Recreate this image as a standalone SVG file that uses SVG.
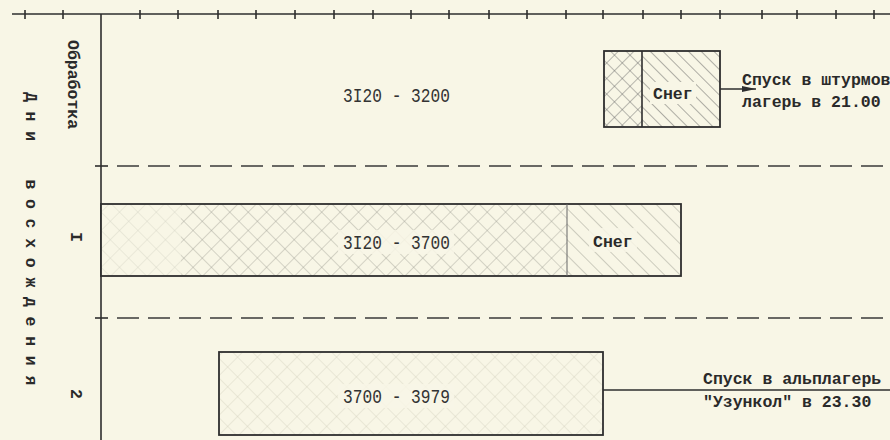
<svg xmlns="http://www.w3.org/2000/svg" width="890" height="440" viewBox="0 0 890 440">
<style>
.ln{stroke:#2e2e2e;stroke-width:1.6;fill:none}
.box{stroke:#2e2e2e;stroke-width:1.8}
.dash{stroke:#3a3a3a;stroke-width:1.4;stroke-dasharray:22 9;fill:none}
.t{font-family:"Liberation Mono","DejaVu Sans Mono",monospace;fill:#2a2a2a;font-size:16.5px;font-weight:bold}
.num{font-family:"Liberation Mono","DejaVu Sans Mono",monospace;fill:#333;font-size:21px}
</style>
<defs>
<pattern id="crossDark" patternUnits="userSpaceOnUse" width="11" height="11" patternTransform="rotate(45)">
<rect width="11" height="11" fill="#f8f6e6"/>
<path d="M0,0 V11 M0,0 H11" stroke="#666" stroke-width="0.9"/>
</pattern>
<pattern id="backDark" patternUnits="userSpaceOnUse" width="9" height="9" patternTransform="rotate(-45)">
<rect width="9" height="9" fill="#f8f6e6"/>
<path d="M0,0 V9" stroke="#555" stroke-width="0.9"/>
</pattern>
<pattern id="crossLight" patternUnits="userSpaceOnUse" width="13" height="13" patternTransform="rotate(45)">
<rect width="13" height="13" fill="#f8f6e6"/>
<path d="M0,0 V13 M0,0 H13" stroke="#9a9a90" stroke-width="0.8"/>
</pattern>
<pattern id="backLight" patternUnits="userSpaceOnUse" width="11" height="11" patternTransform="rotate(-45)">
<rect width="11" height="11" fill="#f8f6e6"/>
<path d="M0,0 V11" stroke="#8a8a80" stroke-width="0.8"/>
</pattern>
<pattern id="crossFaint" patternUnits="userSpaceOnUse" width="14" height="14" patternTransform="rotate(45)">
<rect width="14" height="14" fill="#f8f6e6"/>
<path d="M0,0 V14 M0,0 H14" stroke="#cfccb8" stroke-width="0.7"/>
</pattern>
<marker id="arr" markerWidth="14" markerHeight="6" refX="14" refY="3" orient="auto" markerUnits="userSpaceOnUse">
<path d="M0,0 L14,3 L0,6 Z" fill="#2e2e2e"/>
</marker>
</defs>
<rect width="890" height="440" fill="#f8f6e6"/>

<g id="axis">
<line class="ln" x1="12" y1="14" x2="890" y2="14"/>
<path class="ln" stroke-width="1.3" d="M25,10V19 M63,10V19 M140,10V19 M178,10V19 M218,10V19 M256,10V19 M295,10V19 M334,10V19 M373,10V19 M411,10V19 M449,10V19 M489,10V19 M527,10V19 M566,10V19 M603,10V19 M643,10V19 M681,10V19 M720,10V19 M762,10V19 M797,10V19 M836,10V19 M874,10V19"/>
<line class="ln" x1="101" y1="14" x2="101" y2="440"/>
</g>

<g id="separators">
<line class="ln" stroke-width="1.4" x1="95" y1="166" x2="108" y2="166"/>
<line class="dash" x1="117" y1="166" x2="890" y2="166"/>
<line class="ln" stroke-width="1.4" x1="95" y1="318" x2="108" y2="318"/>
<line class="dash" x1="117" y1="318" x2="890" y2="318"/>
</g>

<g id="labels">
<text class="t" transform="translate(68,40) rotate(90)">Обработка</text>
<text class="t" transform="translate(26,92) rotate(90)" letter-spacing="9.7" word-spacing="9">Дни восхождения</text>
<text class="t" font-size="18" transform="translate(71,232) rotate(90)">I</text>
<text class="t" font-size="18" transform="translate(71,389) rotate(90)">2</text>
</g>

<g id="day0">
<text class="num" x="343" y="102" textLength="107" lengthAdjust="spacingAndGlyphs">3I20 - 3200</text>
<rect x="604" y="51" width="38" height="76" fill="url(#crossDark)"/>
<rect x="642" y="51" width="78" height="76" fill="url(#backDark)"/>
<rect x="604" y="51" width="116" height="76" fill="none" class="box"/>
<line class="ln" x1="642" y1="51" x2="642" y2="127"/>
<rect x="650" y="82" width="46" height="22" fill="#f8f6e6"/>
<text class="t" x="653" y="99">Снег</text>
</g>

<g id="day1">
<rect x="101" y="204" width="466" height="72" fill="url(#crossLight)"/>
<rect x="101" y="204" width="80" height="72" fill="#f8f6e6" opacity="0.6"/>
<rect x="567" y="204" width="114" height="72" fill="url(#backLight)"/>
<rect x="101" y="204" width="580" height="72" fill="none" class="box"/>
<line stroke="#666" stroke-width="1" x1="567" y1="204" x2="567" y2="276"/>
<rect x="338" y="230" width="116" height="24" fill="#f8f6e6" opacity="0.85"/>
<text class="num" x="343" y="249" textLength="107" lengthAdjust="spacingAndGlyphs">3I20 - 3700</text>
<rect x="589" y="228" width="48" height="24" fill="#f8f6e6" opacity="0.85"/>
<text class="t" x="593" y="247">Снег</text>
</g>

<g id="day2">
<rect x="219" y="352" width="384" height="83" fill="url(#crossFaint)"/>
<rect x="219" y="352" width="384" height="83" fill="none" class="box"/>
<rect x="338" y="384" width="116" height="24" fill="#f8f6e6" opacity="0.85"/>
<text class="num" x="343" y="403" textLength="107" lengthAdjust="spacingAndGlyphs">3700 - 3979</text>
</g>

<g id="connectors">
<line class="ln" x1="720" y1="89" x2="756" y2="89" marker-end="url(#arr)"/>
<line class="ln" x1="603" y1="390" x2="890" y2="390"/>
</g>

<g id="notes">
<text class="t" x="742" y="85" font-size="15">Спуск в штурмов</text>
<text class="t" x="742" y="107">лагерь в 21.00</text>
<text class="t" x="703" y="384" font-size="16.3">Спуск в альплагерь</text>
<text class="t" x="703" y="407">"Узункол" в 23.30</text>
</g>
</svg>
